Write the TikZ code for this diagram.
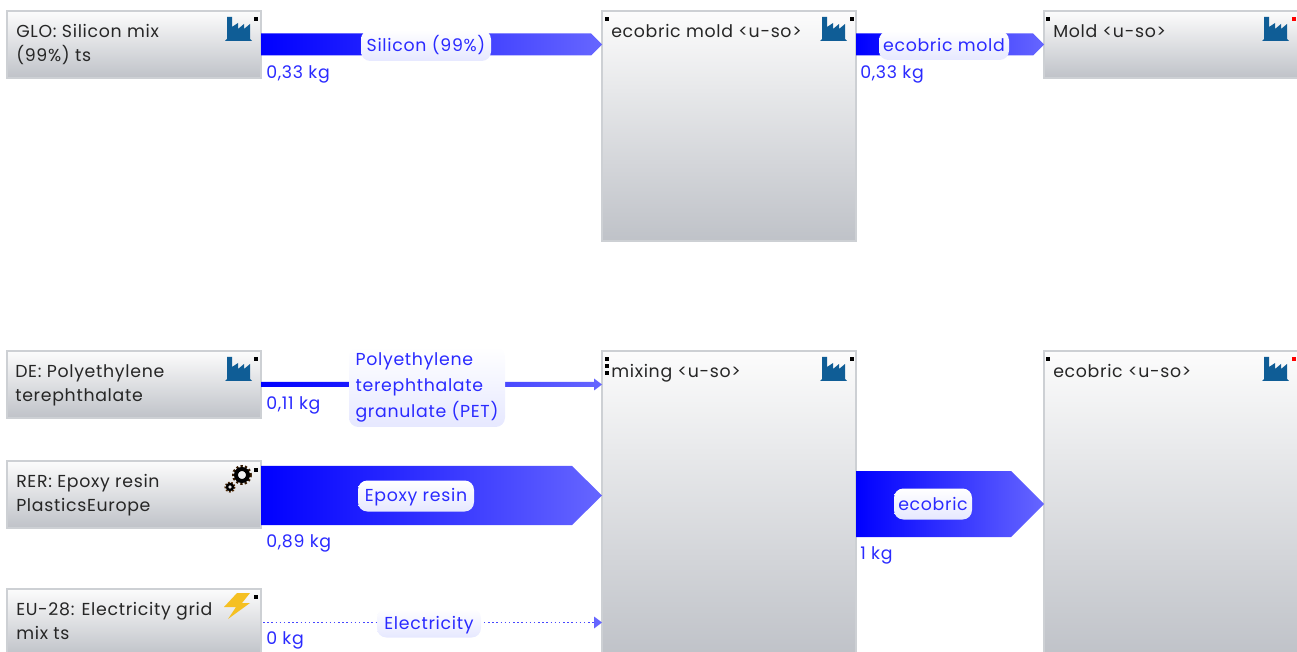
\documentclass[tikz,border=0pt]{standalone}
\usepackage{fontspec}
\setmainfont[LetterSpace=4]{Poppins}
\usetikzlibrary{calc}
\definecolor{boxtop}{HTML}{FCFCFC}
\definecolor{boxmid}{HTML}{E3E4E7}
\definecolor{boxbot}{HTML}{BFC2C8}
\definecolor{boxline}{HTML}{CDD0D4}
\definecolor{flowA}{HTML}{0000FF}
\definecolor{flowB}{HTML}{6666FF}
\definecolor{flowtext}{HTML}{2A2AFF}
\definecolor{labeltop}{HTML}{FFFFFF}
\definecolor{labelbot}{HTML}{E6E8FF}
\definecolor{factory}{HTML}{0F5D96}
\definecolor{bolt}{HTML}{F5C022}
\tikzset{
  procbox/.style={draw=boxline,line width=1pt,top color=boxtop,middle color=boxmid,bottom color=boxbot,inner sep=0pt,outer sep=0pt},
  proctext/.style={anchor=base west,align=left,inner sep=0pt,font=\fontsize{13}{18}\selectfont,text=black!85},
  flowlabel/.style={rounded corners=7pt,top color=labeltop,bottom color=labelbot,inner sep=0pt,text height=10pt,text depth=1pt,text=flowtext,font=\fontsize{13}{19.5}\selectfont},
  petlabel/.style={rounded corners=7pt,top color=labeltop,bottom color=labelbot,inner sep=0pt,align=left,text=flowtext,font=\fontsize{13}{19.5}\selectfont},
  amount/.style={anchor=base west,inner sep=0pt,text=flowtext,font=\fontsize{13}{18}\selectfont},
  marker/.style={fill=black,draw=none,minimum width=2.4pt,minimum height=3pt,inner sep=0pt},
  redmarker/.style={fill=red,draw=none,minimum width=2.4pt,minimum height=3pt,inner sep=0pt},
  factorypic/.pic={
    \fill[factory] (0,24) -- (2,22) -- (2,0) -- (7,0) -- (7,10) -- (13,6) -- (13,12) -- (19,7) -- (19,12) -- (25,7) -- (25,22) -- (27,24) -- cycle;
  },
  gearspic/.pic={
    \draw[black!80!orange,line width=3pt*0.75,dash pattern=on 1.6pt off 1.6pt] (18,10) circle[radius=8.5];
    \draw[black,line width=4pt*0.75] (18,10) circle[radius=6];
    \draw[black!70!orange,line width=2pt*0.75,dash pattern=on 1.2pt off 1.2pt] (6,22) circle[radius=4.6];
    \draw[black,line width=2.4pt*0.75] (6,22) circle[radius=3];
  },
  boltpic/.pic={
    \fill[bolt] (13,0) -- (26,0) -- (18,10) -- (26,10) -- (4,26) -- (12,14) -- (0,14) -- cycle;
  }
}
% from node, tip coordinate, shaft half width, head half width, head length
\newcommand{\flowarrow}[5]{%
  \path[left color=flowA,right color=flowB]
    ($(#1)+(0,-#3)$) -- ($(#2)+(-#5,-#3)$) -- ($(#2)+(-#5,-#4)$) -- (#2)
    -- ($(#2)+(-#5,#4)$) -- ($(#2)+(-#5,#3)$) -- ($(#1)+(0,#3)$) -- cycle;
}
\begin{document}
\begin{tikzpicture}[x=0.75pt,y=-0.75pt]
\useasboundingbox (0,0) rectangle (1297,652);
\clip (0,0) rectangle (1297,652);
% process boxes
\node[procbox,minimum width=254*0.75pt,minimum height=67*0.75pt] (glo) at (134,44.5) {};
\node[procbox,minimum width=254*0.75pt,minimum height=230*0.75pt] (ecomold) at (729,126) {};
\node[procbox,minimum width=260*0.75pt,minimum height=67*0.75pt] (mold) at (1174,44.5) {};
\node[procbox,minimum width=254*0.75pt,minimum height=67*0.75pt] (de) at (134,384.5) {};
\node[procbox,minimum width=254*0.75pt,minimum height=67*0.75pt] (rer) at (134,494.5) {};
\node[procbox,minimum width=254*0.75pt,minimum height=67*0.75pt] (eu) at (134,622.5) {};
\node[procbox,minimum width=254*0.75pt,minimum height=306*0.75pt] (mixing) at (729,504) {};
\node[procbox,minimum width=260*0.75pt,minimum height=306*0.75pt] (ecobricbox) at (1174,504) {};
% connectors
\coordinate (tipA) at (glo.east -| ecomold.west);
\coordinate (tipB) at (mold.west);
\coordinate (startB) at (ecomold.east |- mold.west);
\coordinate (tipC) at (de.east -| mixing.west);
\coordinate (tipD) at ($(rer.east -| mixing.west)+(0,1)$);
\coordinate (startD) at ($(rer.east)+(0,1)$);
\coordinate (tipE) at (mixing.east -| ecobricbox.west);
\coordinate (startE) at (mixing.east);
\coordinate (tipF) at (eu.east -| mixing.west);
\flowarrow{glo.east}{tipA}{11}{11}{11}
\flowarrow{startB}{tipB}{11}{11}{11}
\flowarrow{de.east}{tipC}{2.5}{6}{8}
\flowarrow{startD}{tipD}{29.5}{29.5}{30}
\flowarrow{startE}{tipE}{33}{33}{33}
\draw[flowB!70!flowA,line width=1.5*0.75pt,dotted] ($(eu.east)+(2,0)$) -- ($(tipF)+(-7,0)$);
\fill[flowB] (tipF) -- ++(-8,-6) -- ++(0,12) -- cycle;
% flow labels
\node[flowlabel,minimum width=130*0.75pt,minimum height=31*0.75pt] (lsi) at (426,45.5) {Silicon (99\%)};
\node[flowlabel,minimum width=130*0.75pt,minimum height=29*0.75pt] (lmold) at (944,45.5) {ecobric mold};
\node[petlabel,minimum width=156*0.75pt,minimum height=80*0.75pt] (lpet) at (427,387) {Polyethylene\\terephthalate\\granulate (PET)};
\node[flowlabel,minimum width=116*0.75pt,minimum height=31*0.75pt] (lep) at (416,496) {Epoxy resin};
\node[flowlabel,minimum width=78*0.75pt,minimum height=31*0.75pt] (leco) at (933,504) {ecobric};
\node[flowlabel,minimum width=104*0.75pt,minimum height=29*0.75pt] (lel) at (429,623) {Electricity};
% amounts
\node[amount] (a1) at (266,79) {0,33 kg};
\node[amount] (a2) at (860,79) {0,33 kg};
\node[amount] (a3) at (266,410) {0,11 kg};
\node[amount] (a4) at (266,547) {0,89 kg};
\node[amount] (a5) at (860,559) {1 kg};
\node[amount] (a6) at (266,644) {0 kg};
% process texts
\node[proctext] (t1) at (16,62) {GLO: Silicon mix\\(99\%) ts};
\node[proctext] (t2) at (611,38) {ecobric mold <u-so>};
\node[proctext] (t3) at (1053,38) {Mold <u-so>};
\node[proctext] (t4) at (15,402) {DE: Polyethylene\\terephthalate};
\node[proctext] (t5) at (16,512) {RER: Epoxy resin\\PlasticsEurope};
\node[proctext] (t6) at (16,639) {EU-28: Electricity grid\\mix ts};
\node[proctext] (t7) at (611,378) {mixing <u-so>};
\node[proctext] (t8) at (1053,378) {ecobric <u-so>};
% icons
\pic at (225,17) {factorypic};
\pic at (820,17) {factorypic};
\pic at (1262,17) {factorypic};
\pic at (225,357) {factorypic};
\pic at (820,357) {factorypic};
\pic at (1262,357) {factorypic};
\pic at (224,465) {gearspic};
\pic at (224,593) {boltpic};
% corner markers
\node[marker] (m1) at (256,19) {};
\node[marker] (m2) at (607,19) {};
\node[marker] (m3) at (852,19) {};
\node[marker] (m4) at (1048,19) {};
\node[redmarker] (m5) at (1294,19) {};
\node[marker] (m6) at (256,359) {};
\node[marker] (m7) at (256,470) {};
\node[marker] (m8) at (256,597) {};
\node[marker] (m9) at (607,359) {};
\node[marker] (m10) at (607,366) {};
\node[marker] (m11) at (607,373) {};
\node[marker] (m12) at (852,359) {};
\node[marker] (m13) at (1048,359) {};
\node[redmarker] (m14) at (1294,359) {};
\end{tikzpicture}
\end{document}
